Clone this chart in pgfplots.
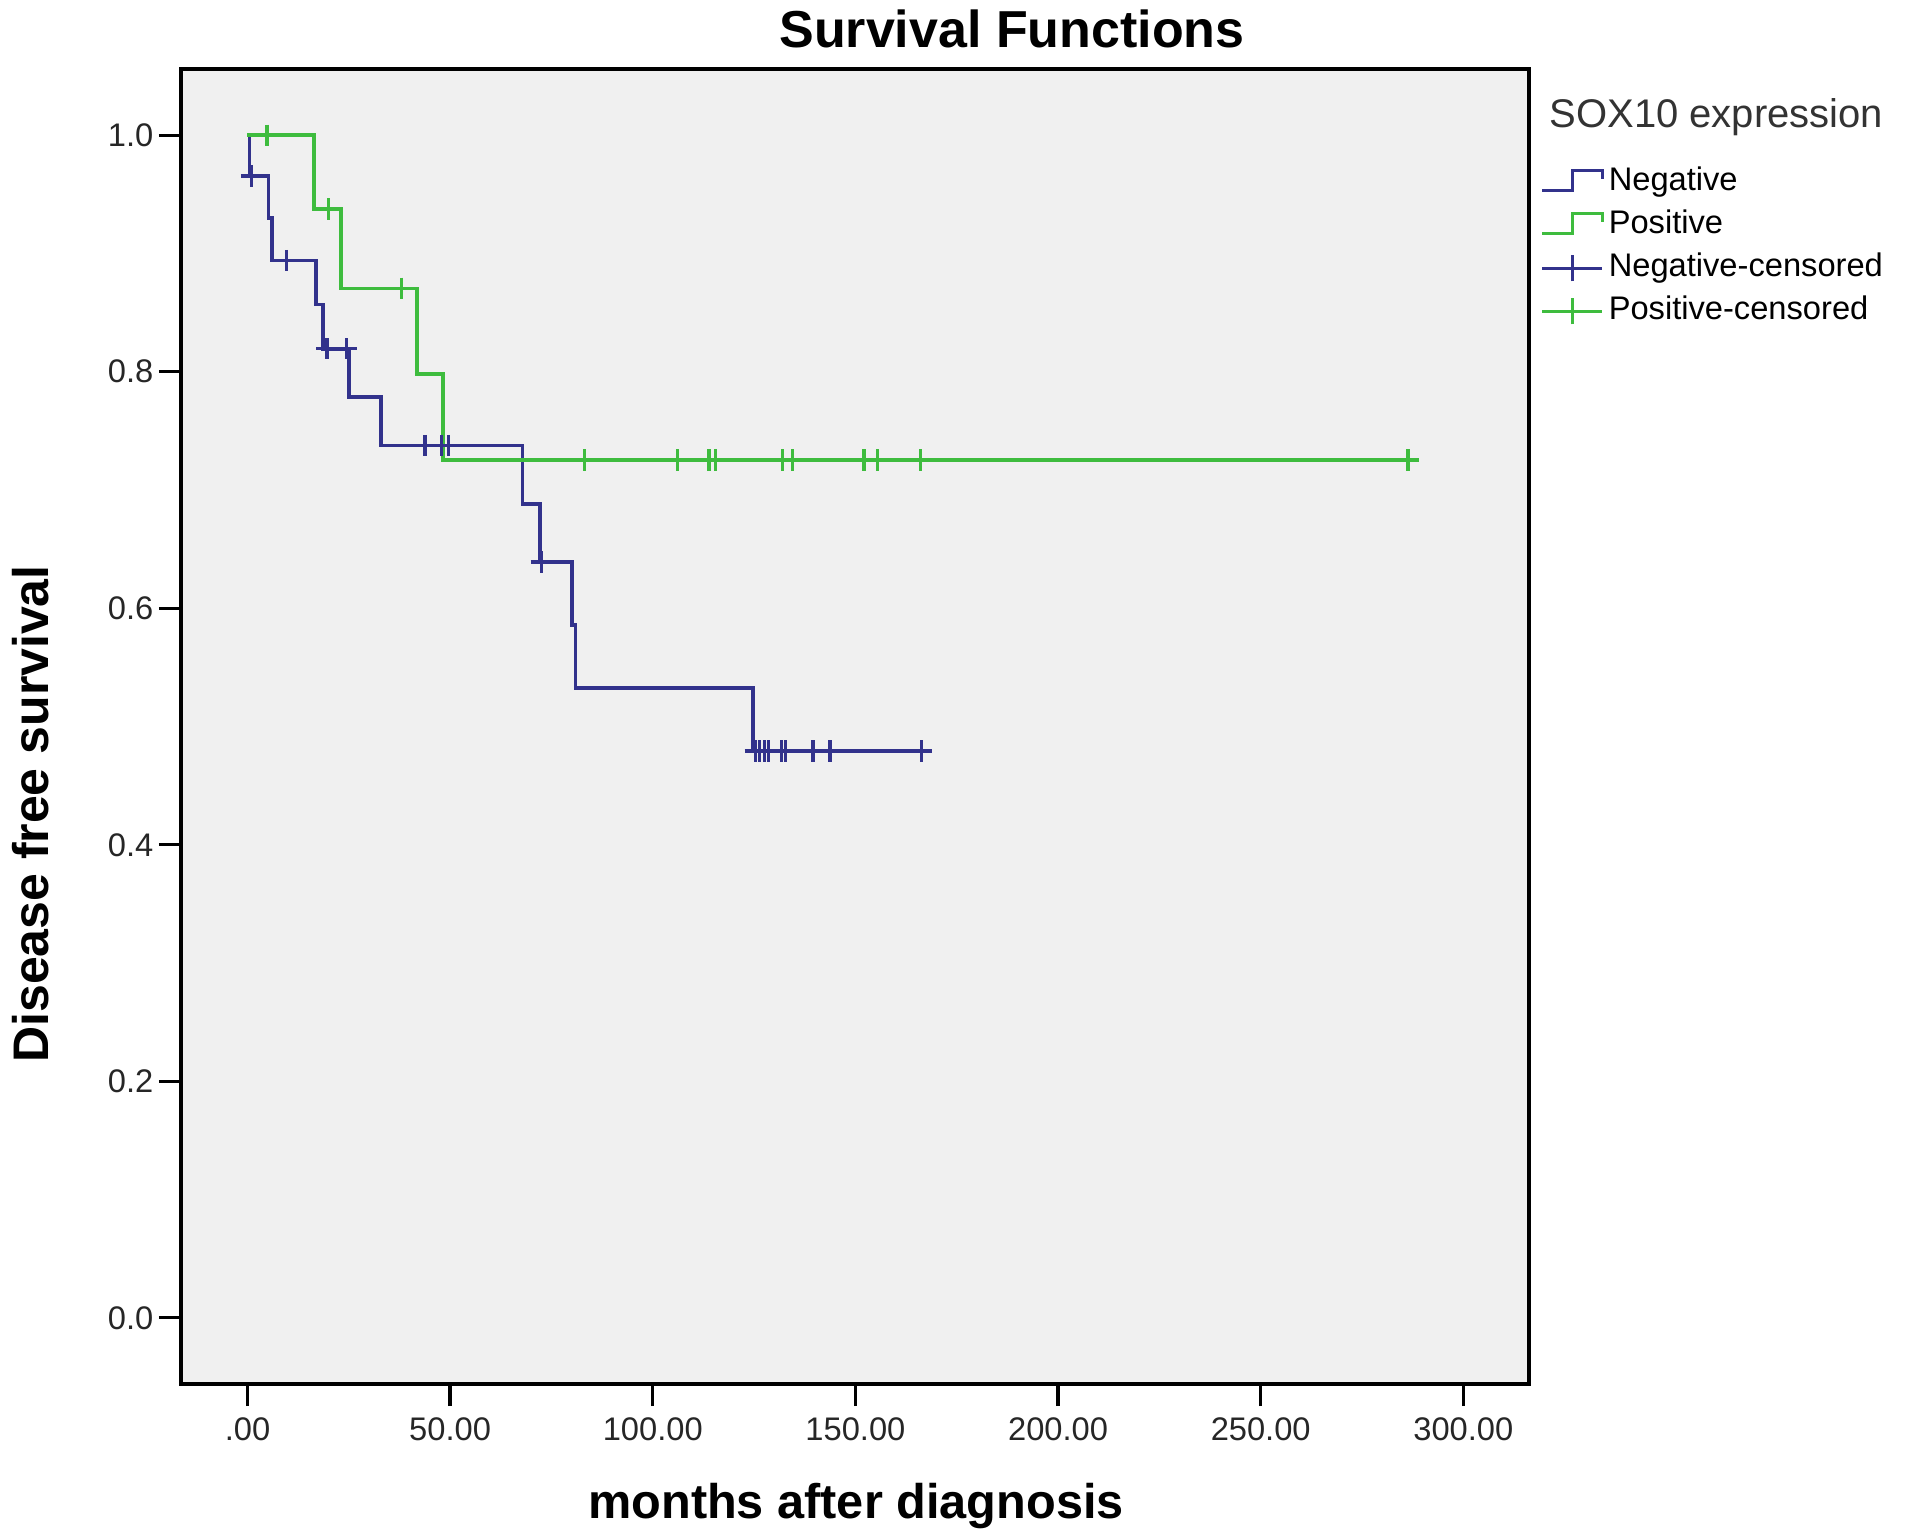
\documentclass[border=0pt]{standalone}
\usepackage{fontspec}
\setmainfont{Liberation Sans}
\usepackage{pgfplots}
\pgfplotsset{compat=1.18}
\definecolor{negc}{RGB}{50,50,140}
\definecolor{posc}{RGB}{62,188,62}
\definecolor{bgc}{RGB}{240,240,240}
\begin{document}
\begin{tikzpicture}
\path (-54.3pt,-45.9pt) rectangle (521.7pt,415.2pt);
\begin{axis}[
  at={(0pt,0pt)}, anchor=south west,
  scale only axis, width=404.4pt, height=394.5pt,
  xmin=-16.4, xmax=316.2, ymin=-0.056, ymax=1.056,
  axis background/.style={fill=bgc},
  axis line style={black, line width=1.1pt},
  tick style={black, line width=1pt},
  tick align=outside, major tick length=6.6pt,
  xtick pos=bottom, ytick pos=left,
  xtick={0,50,100,150,200,250,300},
  xticklabels={.00,50.00,100.00,150.00,200.00,250.00,300.00},
  ytick={0,0.2,0.4,0.6,0.8,1.0},
  yticklabels={0.0,0.2,0.4,0.6,0.8,1.0},
  ticklabel style={font=\fontsize{9.8}{11}\selectfont, text=black!85},
  yticklabel style={inner sep=1.5pt},
  legend style={at={(1.0008,0.9323)}, anchor=north west, draw=none, fill=none,
    font=\fontsize{9.8}{11}\selectfont, row sep=2.9pt,
    nodes={inner sep=0pt, text height=7.6pt, text depth=2.4pt},
    column sep=1.5pt},
  legend cell align=left,
  clip=false,
]
\addplot[const plot, color=negc, line width=1.1pt,
  legend image code/.code={\draw[color=negc, line width=0.9pt] (0pt,-2.4pt) -- (9pt,-2.4pt) -- (9pt,3.4pt) -- (18pt,3.4pt) -- (18pt,0.8pt);}]
  coordinates {(0,1) (0.5,0.9655) (5.2,0.9298) (6.0,0.8940) (16.9,0.8568) (18.7,0.8195) (25.1,0.7785) (32.9,0.7376) (67.9,0.6884) (72.2,0.6392) (80.0,0.5859) (80.9,0.5327) (124.8,0.4794) (166.3,0.4794)};
\addlegendentry{Negative}
\addplot[const plot, color=posc, line width=1.1pt,
  legend image code/.code={\draw[color=posc, line width=0.9pt] (0pt,-2.4pt) -- (9pt,-2.4pt) -- (9pt,3.4pt) -- (18pt,3.4pt) -- (18pt,0.8pt);}]
  coordinates {(0,1) (16.4,0.9375) (23.0,0.8705) (41.8,0.7980) (48.2,0.7254) (286.3,0.7254)};
\addlegendentry{Positive}
\addplot[only marks, mark=+, mark size=3.2pt, color=negc, line width=1pt,
  legend image code/.code={\draw[color=negc, line width=0.9pt] (0pt,0pt) -- (18pt,0pt); \draw[color=negc, line width=1pt] (9pt,-4pt) -- (9pt,4pt);}]
  coordinates {(1.0,0.9655) (9.7,0.8940) (19.6,0.8195) (24.5,0.8195) (43.8,0.7376) (47.9,0.7376) (49.6,0.7376) (72.5,0.6392)
  (125.3,0.4794) (126.3,0.4794) (127.5,0.4794) (128.5,0.4794) (131.8,0.4794) (132.8,0.4794) (139.5,0.4794) (143.7,0.4794) (166.3,0.4794)};
\addlegendentry{Negative-censored}
\addplot[only marks, mark=+, mark size=3.2pt, color=posc, line width=1pt,
  legend image code/.code={\draw[color=posc, line width=0.9pt] (0pt,0pt) -- (18pt,0pt); \draw[color=posc, line width=1pt] (9pt,-4pt) -- (9pt,4pt);}]
  coordinates {(4.8,1.0) (20.0,0.9375) (38.0,0.8705) (83.1,0.7254) (106.1,0.7254) (113.9,0.7254) (115.5,0.7254) (132.0,0.7254) (134.4,0.7254) (152.1,0.7254) (155.4,0.7254) (166.0,0.7254) (286.3,0.7254)};
\addlegendentry{Positive-censored}
\end{axis}
\node[anchor=base, inner sep=0pt, font=\bfseries\fontsize{15.6}{18}\selectfont] at (249.3pt,401.0pt) {Survival Functions};
\node[anchor=base, inner sep=0pt, font=\bfseries\fontsize{14.6}{17}\selectfont] at (202.5pt,-40.2pt) {months after diagnosis};
\node[anchor=base, inner sep=0pt, rotate=90, font=\bfseries\fontsize{15}{18}\selectfont] at (-39.6pt,171pt) {Disease free survival};
\node[anchor=west, inner sep=0pt, font=\fontsize{12}{14}\selectfont, text=black!80] at (410.4pt,380.2pt) {SOX10 expression};
\end{tikzpicture}
\end{document}
